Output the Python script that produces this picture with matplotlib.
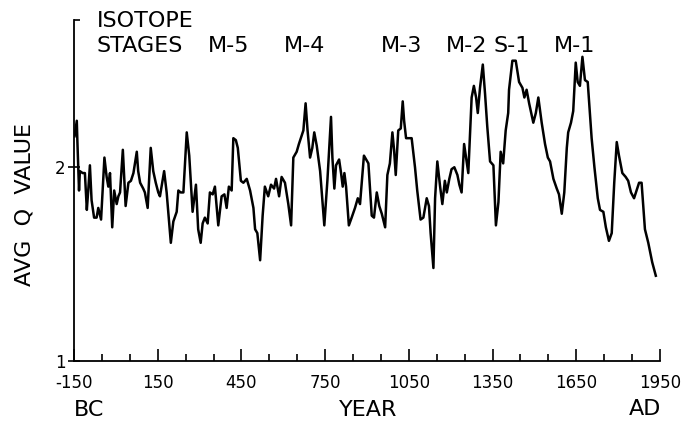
import matplotlib
matplotlib.use('Agg')

import matplotlib.pyplot as plt
import numpy as np

# years and average Q values
years = [-148, -140, -138, -132, -129, -119, -111, -104, -99, -93, -87, -78, -69, -63, -53,
         -41, -33, -27, -21, -13, -6, 3, 9, 15, 25, 35, 45, 54, 63, 75,
         80, 87, 98, 104, 114, 125, 134, 143, 152, 158, 173, 182, 197, 206, 218,
         224, 232, 242, 254, 263, 275, 287, 295, 304, 311, 319, 329, 337, 347, 355,
         367, 379, 389, 397, 405, 415, 421, 430, 437, 448, 457, 469, 481, 493, 499,
         507, 517, 526, 534, 546, 556, 567, 574, 585, 594, 606, 618, 628, 636, 648,
         656, 663, 672, 680, 687, 696, 704, 711, 720, 732, 747, 758, 771, 776, 783,
         789, 800, 807, 813, 819, 825, 835, 845, 857, 867, 875, 889, 905, 917, 925,
         935, 944, 953, 965, 973, 982, 991, 997, 1003, 1012, 1021, 1028, 1033, 1040, 1052,
         1060, 1072, 1080, 1092, 1102, 1114, 1122, 1128, 1138, 1144, 1152, 1162, 1170, 1179, 1186,
         1195, 1203, 1213, 1224, 1231, 1239, 1248, 1255, 1263, 1269, 1275, 1283, 1291, 1297, 1305,
         1315, 1323, 1331, 1341, 1353, 1362, 1371, 1379, 1388, 1397, 1406, 1409, 1421, 1433, 1445,
         1457, 1464, 1472, 1481, 1496, 1505, 1514, 1526, 1538, 1548, 1556, 1568, 1580, 1588, 1598,
         1607, 1616, 1621, 1631, 1639, 1648, 1655, 1663, 1672, 1681, 1691, 1705, 1715, 1727, 1735,
         1747, 1756, 1767, 1777, 1786, 1795, 1803, 1815, 1827, 1836, 1846, 1857, 1866, 1875, 1884,
         1896, 1908, 1922, 1935]
q_values = [2.16, 2.24, 2.14, 1.88, 1.98, 1.97, 1.97, 1.78, 1.88, 2.01, 1.83, 1.74, 1.74, 1.79, 1.73,
            2.05, 1.95, 1.90, 1.97, 1.69, 1.88, 1.81, 1.85, 1.87, 2.09, 1.80, 1.92, 1.93, 1.97, 2.08,
            1.98, 1.92, 1.89, 1.87, 1.79, 2.10, 1.98, 1.92, 1.87, 1.85, 1.98, 1.87, 1.61, 1.72, 1.77,
            1.88, 1.87, 1.87, 2.18, 2.06, 1.77, 1.91, 1.68, 1.61, 1.71, 1.74, 1.71, 1.87, 1.86, 1.90,
            1.70, 1.85, 1.86, 1.79, 1.90, 1.88, 2.15, 2.14, 2.10, 1.93, 1.92, 1.94, 1.88, 1.79, 1.68,
            1.66, 1.52, 1.75, 1.90, 1.85, 1.91, 1.89, 1.94, 1.85, 1.95, 1.92, 1.81, 1.70, 2.05, 2.08,
            2.12, 2.15, 2.19, 2.33, 2.19, 2.05, 2.10, 2.18, 2.11, 1.98, 1.70, 1.93, 2.26, 2.05, 1.89,
            2.01, 2.04, 1.97, 1.90, 1.97, 1.90, 1.70, 1.74, 1.79, 1.84, 1.81, 2.06, 2.02, 1.75, 1.74,
            1.87, 1.80, 1.76, 1.69, 1.96, 2.02, 2.18, 2.09, 1.96, 2.19, 2.20, 2.34, 2.24, 2.15, 2.15,
            2.15, 2.00, 1.88, 1.73, 1.74, 1.84, 1.80, 1.66, 1.48, 1.84, 2.03, 1.90, 1.81, 1.93, 1.87,
            1.94, 1.99, 2.00, 1.96, 1.91, 1.87, 2.12, 2.05, 1.97, 2.16, 2.36, 2.42, 2.36, 2.28, 2.41,
            2.53, 2.38, 2.21, 2.03, 2.01, 1.70, 1.82, 2.08, 2.02, 2.19, 2.28, 2.40, 2.55, 2.55, 2.44,
            2.41, 2.36, 2.40, 2.33, 2.23, 2.28, 2.36, 2.23, 2.12, 2.05, 2.03, 1.94, 1.89, 1.86, 1.76,
            1.87, 2.10, 2.18, 2.23, 2.29, 2.54, 2.44, 2.42, 2.57, 2.45, 2.44, 2.15, 2.00, 1.84, 1.78,
            1.77, 1.69, 1.62, 1.66, 1.92, 2.13, 2.06, 1.97, 1.95, 1.93, 1.87, 1.84, 1.88, 1.92, 1.92,
            1.68, 1.61, 1.51, 1.44]

stage_labels = ['M-5', 'M-4', 'M-3', 'M-2', 'S-1', 'M-1']
stage_x = [229, 305, 402, 467, 512, 575]   # pixel centres of the stage labels

major_ticks = np.arange(-150, 1951, 300)
minor_ticks = np.arange(-150, 1951, 100)

W, H = 683, 423
fig = plt.figure(figsize=(W / 100, H / 100), dpi=100)
ax = fig.add_axes([74 / W, 1 - 361 / H, 586 / W, 341 / H])

ax.plot(years, q_values, color='black', lw=1.8)

ax.set_xlim(-150, 1950)
ax.set_ylim(1, 2.76)

for s in ['top', 'right']:
    ax.spines[s].set_visible(False)
for s in ['left', 'bottom']:
    ax.spines[s].set_linewidth(1.3)

ax.set_xticks(major_ticks)
ax.set_xticks(minor_ticks, minor=True)
ax.set_xticklabels([str(t) for t in major_ticks])
ax.tick_params(axis='x', which='major', direction='in', length=9, width=1.2,
               labelsize=12, pad=9)
ax.tick_params(axis='x', which='minor', direction='in', length=5, width=1.2)

ax.set_yticks([1, 2])
ax.set_yticklabels(['1', '2'])
ax.set_yticks([2.76], minor=True)
ax.tick_params(axis='y', which='major', direction='inout', length=8, width=1.2,
               labelsize=12, pad=2)
ax.tick_params(axis='y', which='minor', direction='in', length=4, width=1.2)

# text placed in pixel coordinates of the figure
def px_text(x, y, s, **kw):
    fig.text(x / W, 1 - y / H, s, **kw)

px_text(97, 21, 'ISOTOPE', fontsize=16, ha='left', va='center')
px_text(97, 46, 'STAGES', fontsize=16, ha='left', va='center')
for lab, x in zip(stage_labels, stage_x):
    px_text(x, 46, lab, fontsize=16, ha='center', va='center')

px_text(25, 205, 'AVG  Q  VALUE', fontsize=16, rotation=90, ha='center', va='center')
px_text(89, 410, 'BC', fontsize=16, ha='center', va='center')
px_text(368, 410, 'YEAR', fontsize=16, ha='center', va='center')
px_text(645, 409, 'AD', fontsize=16, ha='center', va='center')

fig.savefig('out.png', dpi=100)
